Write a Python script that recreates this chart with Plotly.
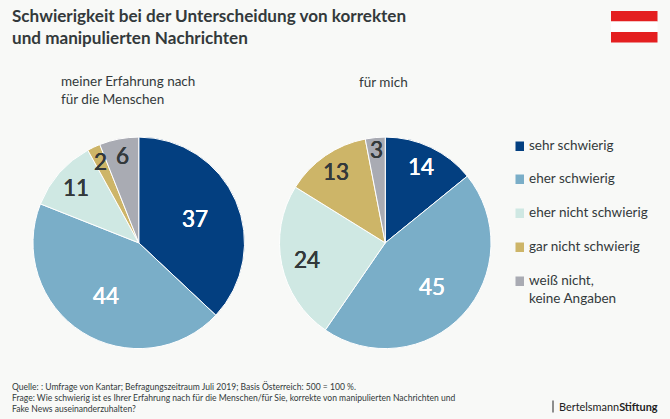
import math
import plotly.graph_objects as go

W, H = 670, 419
categories = ["sehr schwierig", "eher schwierig", "eher nicht schwierig", "gar nicht schwierig", "weiß nicht,<br>keine Angaben"]
values_menschen = [37, 44, 11, 2, 6]
values_mich = [14, 45, 24, 13, 3]
colors = ["#033f80", "#7aaec8", "#cfe8e3", "#cdb568", "#a9abb3"]
text_colors = ["#ffffff", "#ffffff", "#33393b", "#33393b", "#33393b"]
label_radius_menschen = [61, 62, 83, 90, 89]
label_radius_mich = [84, 64, 80, 87, 94]
legend_y = [146, 179, 213, 247, 281]

BG = "#f8f9f7"
INK = "#33393b"
FONT = "Lato"

def X(p): return p / W
def Y(p): return 1 - p / H

fig = go.Figure()

def note(x, y, text, size, color=INK, yanchor="middle", xanchor="left", family=FONT, shadow=None):
    f = dict(family=family, size=size, color=color)
    if shadow:
        f["shadow"] = shadow
    fig.add_annotation(xref="paper", yref="paper", x=X(x), y=Y(y), text=text, showarrow=False,
                       xanchor=xanchor, yanchor=yanchor, align="left", font=f, borderpad=0)

for vals, radii, x0, x1 in [(values_menschen, label_radius_menschen, 33, 244.5),
                            (values_mich, label_radius_mich, 279.5, 491)]:
    fig.add_trace(go.Pie(
        labels=categories, values=vals, sort=False, direction="clockwise", rotation=0,
        domain=dict(x=[X(x0), X(x1)], y=[Y(348.6), Y(137.1)]),
        marker=dict(colors=colors, line=dict(color="#ffffff", width=1)),
        textinfo="none", showlegend=False, hoverinfo="label+value",
    ))
    cx, cy = (x0 + x1) / 2, 242.8
    total = sum(vals)
    cum = 0
    for v, r, tc in zip(vals, radii, text_colors):
        a = 2 * math.pi * (cum + v / 2) / total
        cum += v
        note(cx + r * math.sin(a), cy - r * math.cos(a), str(v), 22.5, color=tc, xanchor="center",
             shadow=f"0.3px 0 0 {tc}, -0.3px 0 0 {tc}")

note(11, 26.5, "<b>Schwierigkeit bei der Unterscheidung von korrekten<br>und manipulierten Nachrichten</b>", 17.1)
note(60, 90, "meiner Erfahrung nach<br>für die Menschen", 13.5)
note(358, 82, "für mich", 13.5)

shapes = []
for c, ly, label in zip(colors, legend_y, categories):
    shapes.append(dict(type="rect", xref="paper", yref="paper", x0=X(515.5), x1=X(524), y0=Y(ly + 5), y1=Y(ly - 4.5),
                       fillcolor=c, line_width=0))
    if "<br>" in label:
        note(528, ly + 8, label, 13.5)
    else:
        note(528, ly - 1, label, 13.5)

for y0, y1, c in [(11, 21.5, "#e41f20"), (21.5, 32, "#ffffff"), (32, 42.5, "#e41f20")]:
    shapes.append(dict(type="rect", xref="paper", yref="paper", x0=X(611), x1=X(657.5), y0=Y(y1), y1=Y(y0),
                       fillcolor=c, line_width=0))
shapes.append(dict(type="line", xref="paper", yref="paper", x0=X(553), x1=X(553), y0=Y(412.5), y1=Y(400.5),
                   line=dict(color="#222222", width=1)))

note(11, 397, "Quelle: : Umfrage von Kantar; Befragungszeitraum Juli 2019; Basis Österreich: 500 = 100 %.<br>"
     "Frage: Wie schwierig ist es Ihrer Erfahrung nach für die Menschen/für Sie, korrekte von manipulierten Nachrichten und<br>"
     "Fake News auseinanderzuhalten?", 8.55)
note(557.5, 406.5, "Bertelsmann<b>Stiftung</b>", 10.9, color="#222222")

fig.update_layout(width=W, height=H, margin=dict(l=0, r=0, t=0, b=0), autosize=False,
                  paper_bgcolor=BG, plot_bgcolor=BG, shapes=shapes,
                  font=dict(family=FONT))
fig.write_html("out.html", config=dict(displayModeBar=False),
               post_script="document.body.style.margin='0';document.body.style.overflow='hidden';")
